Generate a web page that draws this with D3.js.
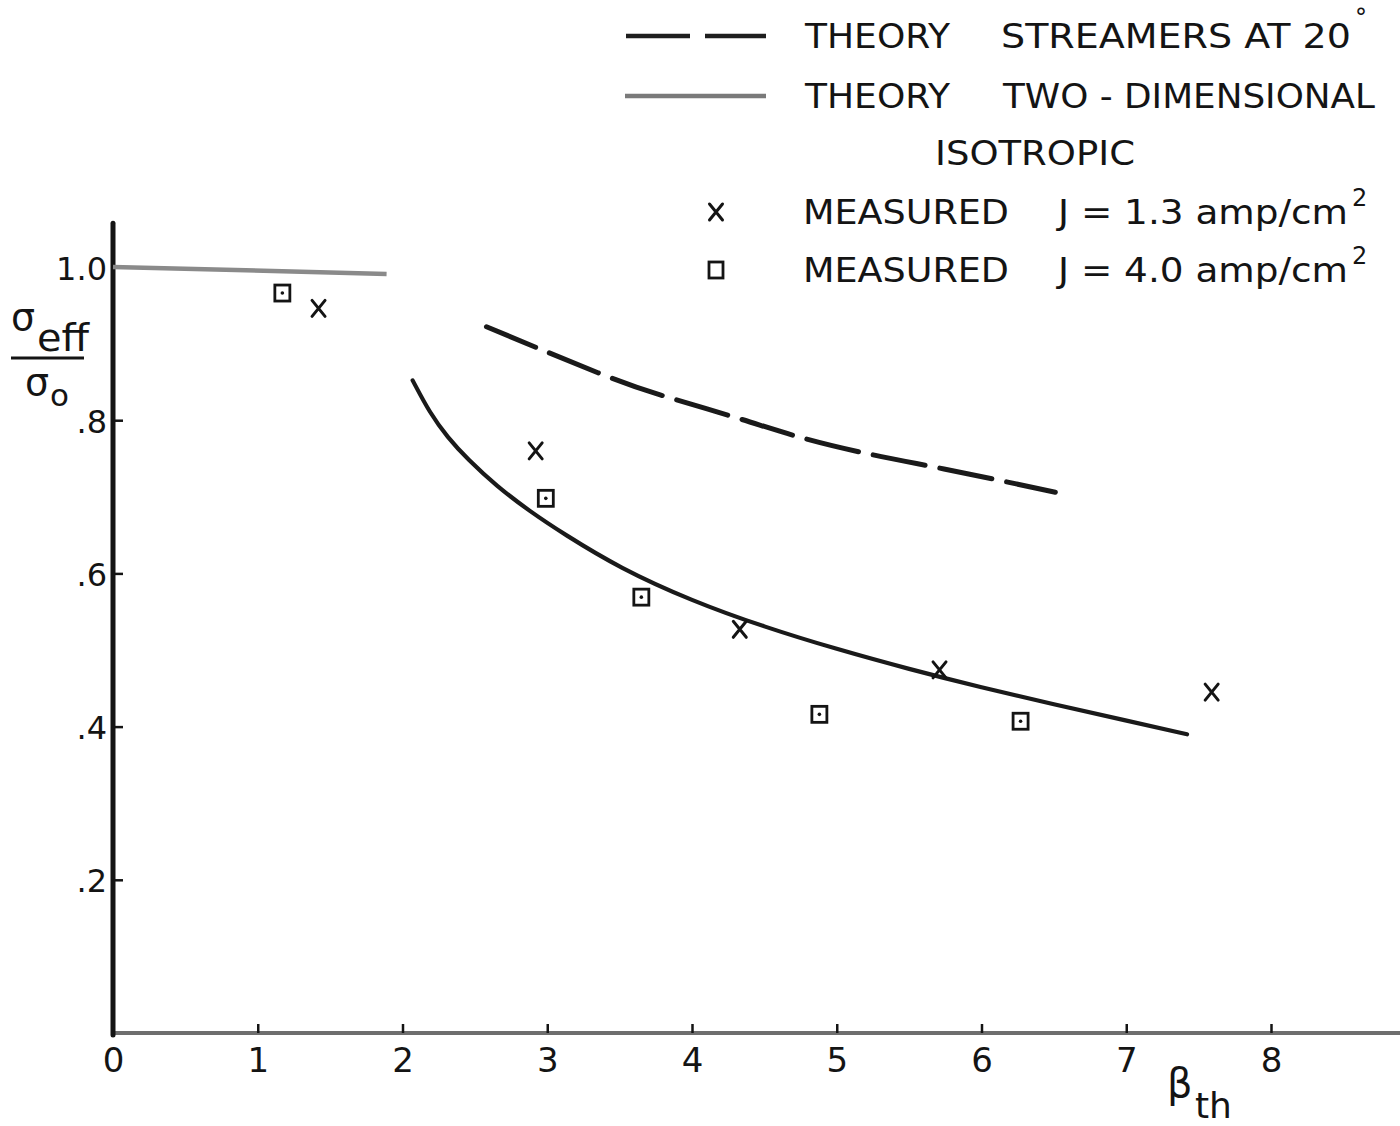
<!DOCTYPE html>
<html>
<head>
<meta charset="utf-8">
<script src="https://cdn.jsdelivr.net/npm/d3@7"></script>
<style>
  html, body { margin: 0; padding: 0; background: #fff; }
  svg { display: block; }
  text { font-family: "DejaVu Sans", "Liberation Sans", sans-serif; fill: #141414; }
</style>
</head>
<body>
<svg id="chart" width="1400" height="1126"></svg>
<script>
// Axis ticks
const xTicks = [0, 1, 2, 3, 4, 5, 6, 7, 8];
const xTickLabels = ["0", "1", "2", "3", "4", "5", "6", "7", "8"];
const yTicks = [0.2, 0.4, 0.6, 0.8, 1.0];
const yTickLabels = [".2", ".4", ".6", ".8", "1.0"];

// Theory: two-dimensional isotropic (solid curve)
const solidBeta = [2.07, 2.19, 2.31, 2.45, 2.65, 2.88, 3.11, 3.5, 4.0, 4.5, 5.0, 5.5, 6.0, 6.5, 7.0, 7.42];
const solidVal  = [0.852, 0.809, 0.778, 0.749, 0.714, 0.681, 0.652, 0.607, 0.564, 0.530, 0.501, 0.475, 0.451, 0.429, 0.408, 0.390];

// Theory: isotropic low-beta branch (grey line)
const isoBeta = [0, 1.89];
const isoVal  = [1.0, 0.991];

// Theory: streamers at 20 degrees (dashed curve)
const dashBeta = [2.58, 3.35, 3.78, 4.31, 4.76, 5.22, 5.67, 6.11, 6.51];
const dashVal  = [0.922, 0.862, 0.833, 0.803, 0.777, 0.756, 0.739, 0.722, 0.706];

// Measured, J = 1.3 amp/cm^2 (x marks)
const crossBeta = [1.42, 2.92, 4.33, 5.71, 7.59];
const crossVal  = [0.946, 0.760, 0.527, 0.474, 0.445];

// Measured, J = 4.0 amp/cm^2 (boxed dots)
const boxBeta = [1.17, 2.99, 3.65, 4.88, 6.27];
const boxVal  = [0.966, 0.698, 0.569, 0.416, 0.407];

const svg = d3.select("#chart");
const ink = "#141414";

const x = d3.scaleLinear().domain([0, 8]).range([113, 1271]);
const y = d3.scaleLinear().domain([0, 1]).range([1033, 267]);

// Axis lines
svg.append("line")
  .attr("x1", x(0)).attr("x2", x(8.9))
  .attr("y1", y(0)).attr("y2", y(0))
  .attr("stroke", "#6e6e6e").attr("stroke-width", 4);
svg.append("line")
  .attr("x1", x(0)).attr("x2", x(0))
  .attr("y1", y(0) + 2).attr("y2", y(1.057))
  .attr("stroke", ink).attr("stroke-width", 5).attr("stroke-linecap", "round");

// X axis ticks and labels
const xAxis = d3.axisBottom(x)
  .tickValues(xTicks)
  .tickFormat((d, i) => xTickLabels[i])
  .tickSize(-9)
  .tickPadding(15);
const gx = svg.append("g").attr("transform", `translate(0,${y(0)})`).call(xAxis);
gx.select(".domain").remove();
gx.selectAll(".tick line").attr("stroke", ink).attr("stroke-width", 2.5)
  .filter(d => d === 0).remove();
gx.selectAll(".tick text").attr("font-size", 34).attr("font-family", "DejaVu Sans").attr("fill", ink);

// Y axis ticks and labels
const yAxis = d3.axisLeft(y)
  .tickValues(yTicks)
  .tickFormat((d, i) => yTickLabels[i])
  .tickSize(-10)
  .tickPadding(6);
const gy = svg.append("g").attr("transform", `translate(${x(0)},0)`).call(yAxis);
gy.select(".domain").remove();
gy.selectAll(".tick line").attr("stroke", ink).attr("stroke-width", 2.5)
  .filter(d => d === 1.0).remove();
gy.selectAll(".tick text").attr("font-size", 32).attr("font-family", "DejaVu Sans").attr("fill", ink)
  .attr("dy", "0.38em");

// Curves
const toPts = (bs, vs) => bs.map((b, i) => [b, vs[i]]);
const line = d3.line().x(d => x(d[0])).y(d => y(d[1])).curve(d3.curveNatural);
const smooth = d3.line().x(d => x(d[0])).y(d => y(d[1])).curve(d3.curveBasis);

svg.append("path")
  .attr("d", line(toPts(isoBeta, isoVal)))
  .attr("fill", "none").attr("stroke", "#8a8a8a").attr("stroke-width", 4.5);

svg.append("path")
  .attr("d", smooth(toPts(solidBeta, solidVal)))
  .attr("fill", "none").attr("stroke", "#1a1a1a").attr("stroke-width", 4.2)
  .attr("stroke-linecap", "round");

svg.append("path")
  .attr("d", line(toPts(dashBeta, dashVal)))
  .attr("fill", "none").attr("stroke", "#1a1a1a").attr("stroke-width", 5)
  .attr("stroke-linecap", "round").attr("stroke-dasharray", "53,15");

// Markers
const crossPath = "M-6.5,-8 L6.5,8 M6.5,-8 L-6.5,8";
svg.append("g").selectAll("path")
  .data(toPts(crossBeta, crossVal))
  .join("path")
  .attr("transform", d => `translate(${x(d[0])},${y(d[1])})`)
  .attr("d", crossPath)
  .attr("fill", "none").attr("stroke", ink).attr("stroke-width", 3).attr("stroke-linecap", "round");

const boxes = svg.append("g").selectAll("g")
  .data(toPts(boxBeta, boxVal))
  .join("g")
  .attr("transform", d => `translate(${x(d[0])},${y(d[1])})`);
boxes.append("rect")
  .attr("x", -7.5).attr("y", -8).attr("width", 15).attr("height", 16)
  .attr("fill", "none").attr("stroke", ink).attr("stroke-width", 2.8);
boxes.append("circle").attr("r", 1.8).attr("fill", ink);

// Axis titles
const yt = svg.append("g");
yt.append("text").attr("x", 11).attr("y", 330).attr("font-size", 38).text("σ");
yt.append("text").attr("x", 37).attr("y", 351).attr("font-size", 37).attr("textLength", 52)
  .attr("lengthAdjust", "spacingAndGlyphs").text("eff");
yt.append("line").attr("x1", 11).attr("x2", 84).attr("y1", 358).attr("y2", 358)
  .attr("stroke", ink).attr("stroke-width", 3);
yt.append("text").attr("x", 25).attr("y", 395).attr("font-size", 38).text("σ");
yt.append("text").attr("x", 50).attr("y", 406).attr("font-size", 31).text("o");

const xt = svg.append("g");
xt.append("text").attr("x", 1167).attr("y", 1097).attr("font-size", 40).text("β");
xt.append("text").attr("x", 1195).attr("y", 1118).attr("font-size", 36).text("th");

// Legend
const lg = svg.append("g");
lg.append("line").attr("x1", 626).attr("x2", 766).attr("y1", 36).attr("y2", 36)
  .attr("stroke", "#1e1e1e").attr("stroke-width", 4.5).attr("stroke-dasharray", "64,15");
lg.append("line").attr("x1", 625).attr("x2", 766).attr("y1", 96).attr("y2", 96)
  .attr("stroke", "#7a7a7a").attr("stroke-width", 4.5);
lg.append("path").attr("transform", "translate(716,212)").attr("d", crossPath)
  .attr("fill", "none").attr("stroke", ink).attr("stroke-width", 3).attr("stroke-linecap", "round");
lg.append("rect").attr("x", 709).attr("y", 262).attr("width", 14).attr("height", 16)
  .attr("fill", "none").attr("stroke", ink).attr("stroke-width", 2.8);

const legendText = [
  { t: "THEORY", x: 805, y: 48, w: 145 },
  { t: "STREAMERS  AT 20", x: 1001, y: 48, w: 350 },
  { t: "THEORY", x: 805, y: 108, w: 145 },
  { t: "TWO - DIMENSIONAL", x: 1003, y: 108, w: 372 },
  { t: "ISOTROPIC", x: 935, y: 165, w: 200 },
  { t: "MEASURED", x: 803, y: 224, w: 206 },
  { t: "J = 1.3 amp/cm", x: 1058, y: 224, w: 290 },
  { t: "MEASURED", x: 803, y: 282, w: 206 },
  { t: "J = 4.0 amp/cm", x: 1058, y: 282, w: 290 }
];
lg.selectAll("text.lt")
  .data(legendText)
  .join("text")
  .attr("class", "lt")
  .attr("x", d => d.x).attr("y", d => d.y)
  .attr("font-size", 33)
  .attr("textLength", d => d.w)
  .attr("lengthAdjust", "spacingAndGlyphs")
  .text(d => d.t);
lg.append("text").attr("x", 1355).attr("y", 26).attr("font-size", 24).text("°");
lg.append("text").attr("x", 1352).attr("y", 206).attr("font-size", 24).text("2");
lg.append("text").attr("x", 1352).attr("y", 264).attr("font-size", 24).text("2");
</script>
</body>
</html>
